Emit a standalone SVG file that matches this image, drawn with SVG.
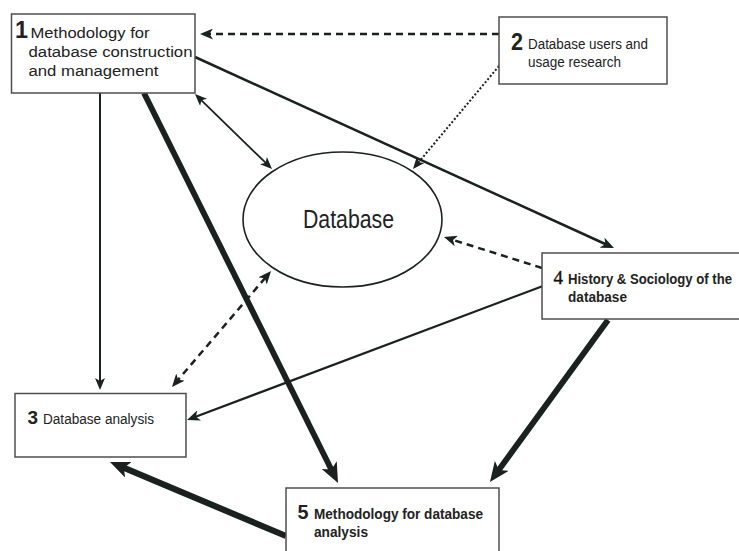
<svg xmlns="http://www.w3.org/2000/svg" width="739" height="551" viewBox="0 0 739 551">
  <style>
    .box { fill: #ffffff; stroke: #4d4f4e; stroke-width: 1.5; }
    .ell { fill: #ffffff; stroke: #1a211f; stroke-width: 1.6; }
    .ln { fill: none; stroke: #1a211f; }
    .dash { stroke-dasharray: 7 5; }
    .dot { stroke-dasharray: 2 2; }
    .t { font-family: "Liberation Sans", Arial, sans-serif; fill: #222; }
    .b { font-weight: bold; }
    .num { font-family: "Liberation Sans", Arial, sans-serif; font-weight: bold; fill: #222; }
  </style>
  <defs>
    <marker id="ah-s" viewBox="0 0 12 10" refX="4" refY="5" markerWidth="12" markerHeight="10" markerUnits="userSpaceOnUse" orient="auto-start-reverse">
      <path d="M0,0 L12,5 L0,10 L3,5 z" fill="#1a211f"/>
    </marker>
    <marker id="ah-m" viewBox="0 0 13 11" refX="4.5" refY="5.5" markerWidth="13" markerHeight="11" markerUnits="userSpaceOnUse" orient="auto-start-reverse">
      <path d="M0,0 L13,5.5 L0,11 L3.5,5.5 z" fill="#1a211f"/>
    </marker>
    <marker id="ah-l" viewBox="0 0 20 17" refX="6" refY="8.5" markerWidth="20" markerHeight="17" markerUnits="userSpaceOnUse" orient="auto">
      <path d="M0,0 L20,8.5 L0,17 L5,8.5 z" fill="#1a211f"/>
    </marker>
  </defs>

  <!-- connectors -->
  <g id="connectors">
    <line class="ln dash" x1="499" y1="34" x2="208.5" y2="34" stroke-width="2.5" marker-end="url(#ah-m)"/>
    <line class="ln dot" x1="499" y1="66" x2="418.1" y2="162.9" stroke-width="2" marker-end="url(#ah-s)"/>
    <line class="ln" x1="195" y1="57" x2="606.3" y2="244.5" stroke-width="2.5" marker-end="url(#ah-m)"/>
    <line class="ln" x1="200.7" y1="99.6" x2="266.3" y2="163.4" stroke-width="1.8" marker-start="url(#ah-s)" marker-end="url(#ah-s)"/>
    <line class="ln" x1="100" y1="93" x2="100" y2="382" stroke-width="2" marker-end="url(#ah-s)"/>
    <line class="ln" x1="144" y1="93" x2="331.8" y2="470.5" stroke-width="5.8" marker-end="url(#ah-l)"/>
    <line class="ln dash" x1="265.5" y1="277.5" x2="177.5" y2="380.5" stroke-width="2.5" marker-start="url(#ah-m)" marker-end="url(#ah-m)"/>
    <line class="ln dash" x1="542" y1="268" x2="452.1" y2="239.6" stroke-width="2.5" marker-end="url(#ah-m)"/>
    <line class="ln" x1="543" y1="286" x2="195" y2="417" stroke-width="2.2" marker-end="url(#ah-m)"/>
    <line class="ln" x1="608" y1="320" x2="498.2" y2="470.7" stroke-width="5.8" marker-end="url(#ah-l)"/>
    <line class="ln" x1="286" y1="536" x2="122.9" y2="467.4" stroke-width="6.2" marker-end="url(#ah-l)"/>
  </g>

  <!-- central database -->
  <g id="database">
    <ellipse class="ell" cx="342.5" cy="219.5" rx="99.5" ry="67.5"/>
    <text class="t" x="303" y="228" font-size="25" textLength="91" lengthAdjust="spacingAndGlyphs">Database</text>
  </g>

  <g id="node1">
    <rect class="box" x="11.5" y="14" width="183.5" height="79"/>
    <text class="num" x="15" y="38" font-size="23" textLength="13" lengthAdjust="spacingAndGlyphs">1</text>
    <text class="t" x="30.5" y="37.5" font-size="15.5" textLength="119" lengthAdjust="spacingAndGlyphs">Methodology for</text>
    <text class="t" x="28.5" y="57" font-size="15.5" textLength="164" lengthAdjust="spacingAndGlyphs">database construction</text>
    <text class="t" x="28.5" y="76" font-size="15.5" textLength="130" lengthAdjust="spacingAndGlyphs">and management</text>
  </g>

  <g id="node2">
    <rect class="box" x="499" y="17" width="168" height="67"/>
    <text class="num" x="511" y="50" font-size="23" textLength="12" lengthAdjust="spacingAndGlyphs">2</text>
    <text class="t" x="528" y="49" font-size="14" textLength="120" lengthAdjust="spacingAndGlyphs">Database users and</text>
    <text class="t" x="528" y="67" font-size="14" textLength="93" lengthAdjust="spacingAndGlyphs">usage research</text>
  </g>

  <g id="node3">
    <rect class="box" x="15" y="393.5" width="171" height="63.5"/>
    <text class="num" x="27.5" y="424" font-size="18" textLength="10.5" lengthAdjust="spacingAndGlyphs">3</text>
    <text class="t" x="43" y="424" font-size="14" textLength="111" lengthAdjust="spacingAndGlyphs">Database analysis</text>
  </g>

  <g id="node4">
    <rect class="box" x="542" y="253" width="210" height="66"/>
    <text x="553.5" y="284" font-size="19" font-family="'Liberation Serif', 'Times New Roman', serif" fill="#111" stroke="#111" stroke-width="0.4">4</text>
    <text class="t b" x="568" y="284" font-size="14" textLength="164" lengthAdjust="spacingAndGlyphs">History &amp; Sociology of the</text>
    <text class="t b" x="568" y="302" font-size="14" textLength="59" lengthAdjust="spacingAndGlyphs">database</text>
  </g>

  <g id="node5">
    <rect class="box" x="286" y="488" width="213" height="75"/>
    <text class="num" x="297.5" y="519" font-size="20" textLength="11" lengthAdjust="spacingAndGlyphs">5</text>
    <text class="t b" x="314" y="519" font-size="15" textLength="169" lengthAdjust="spacingAndGlyphs">Methodology for database</text>
    <text class="t b" x="314" y="537" font-size="15" textLength="54" lengthAdjust="spacingAndGlyphs">analysis</text>
  </g>
</svg>
